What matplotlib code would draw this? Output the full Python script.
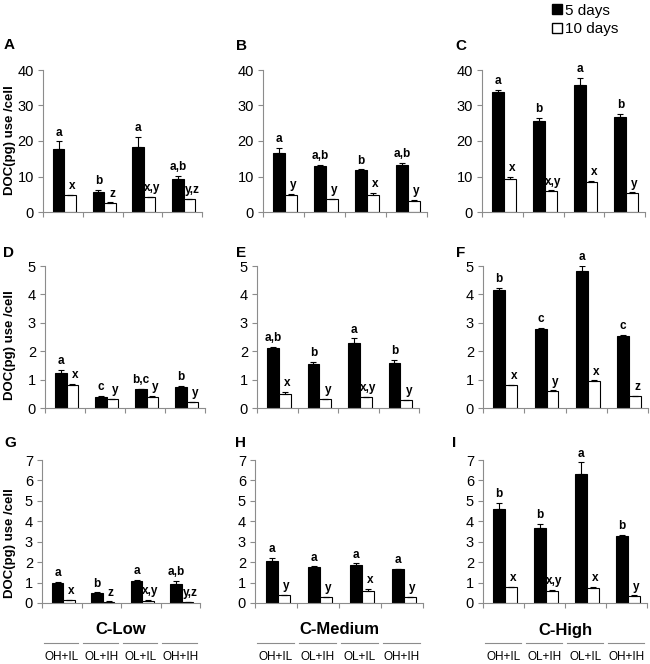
import numpy as np
import matplotlib.pyplot as plt
from matplotlib.patches import Patch
from matplotlib.lines import Line2D
from matplotlib.transforms import blended_transform_factory

plt.rcParams['font.family'] = ['Liberation Sans', 'DejaVu Sans']

treatments = ["OH+IL", "OL+IH", "OL+IL", "OH+IH"]
groups = ["C-Low", "C-Medium", "C-High"]

# panel values: 5 days (black) and 10 days (white), with upper error bars
A_5d = [17.8, 5.5, 18.3, 9.3];   A_5d_err = [2.1, 0.8, 2.8, 0.9]
A_10d = [4.7, 2.6, 4.1, 3.6];   A_10d_err = [0.1, 0.1, 0.1, 0.1]
B_5d = [16.6, 12.9, 11.8, 13.1]; B_5d_err = [1.5, 0.3, 0.2, 0.7]
B_10d = [4.8, 3.7, 4.8, 3.2];   B_10d_err = [0.3, 0.1, 0.5, 0.2]
C_5d = [33.7, 25.5, 35.8, 26.8]; C_5d_err = [0.8, 0.9, 1.9, 0.8]
C_10d = [9.3, 5.9, 8.4, 5.4];   C_10d_err = [0.6, 0.2, 0.4, 0.1]
D_5d = [1.22, 0.40, 0.66, 0.74]; D_5d_err = [0.12, 0.02, 0.02, 0.03]
D_10d = [0.80, 0.30, 0.40, 0.20]; D_10d_err = [0.05, 0.02, 0.02, 0.02]
E_5d = [2.12, 1.54, 2.28, 1.57]; E_5d_err = [0.04, 0.08, 0.17, 0.11]
E_10d = [0.51, 0.31, 0.37, 0.27]; E_10d_err = [0.06, 0.01, 0.02, 0.02]
F_5d = [4.14, 2.77, 4.82, 2.54]; F_5d_err = [0.09, 0.06, 0.18, 0.02]
F_10d = [0.80, 0.60, 0.95, 0.42]; F_10d_err = [0.02, 0.02, 0.02, 0.01]
G_5d = [1.00, 0.51, 1.10, 0.94]; G_5d_err = [0.03, 0.01, 0.03, 0.15]
G_10d = [0.15, 0.07, 0.12, 0.06]; G_10d_err = [0.01, 0.01, 0.01, 0.01]
H_5d = [2.06, 1.77, 1.84, 1.64]; H_5d_err = [0.15, 0.02, 0.10, 0.03]
H_10d = [0.38, 0.28, 0.58, 0.28]; H_10d_err = [0.02, 0.02, 0.09, 0.02]
I_5d = [4.61, 3.69, 6.30, 3.30]; I_5d_err = [0.28, 0.18, 0.58, 0.03]
I_10d = [0.77, 0.60, 0.74, 0.36]; I_10d_err = [0.03, 0.02, 0.03, 0.01]

A_lab5 = ["a", "b", "a", "a,b"]; A_lab10 = ["x", "z", "x,y", "y,z"]
B_lab5 = ["a", "a,b", "b", "a,b"]; B_lab10 = ["y", "y", "x", "y"]
C_lab5 = ["a", "b", "a", "b"]; C_lab10 = ["x", "x,y", "x", "y"]
D_lab5 = ["a", "c", "b,c", "b"]; D_lab10 = ["x", "y", "y", "y"]
E_lab5 = ["a,b", "b", "a", "b"]; E_lab10 = ["x", "y", "x,y", "y"]
F_lab5 = ["b", "c", "a", "c"]; F_lab10 = ["x", "y", "x", "z"]
G_lab5 = ["a", "b", "a", "a,b"]; G_lab10 = ["x", "z", "x,y", "y,z"]
H_lab5 = ["a", "a", "a", "a"]; H_lab10 = ["y", "y", "x", "y"]
I_lab5 = ["b", "b", "a", "b"]; I_lab10 = ["x", "x,y", "x", "y"]

W, H = 650, 664
fig = plt.figure(figsize=(6.5, 6.64), dpi=100)

# pixel boxes (left, right, bottom, top) for each panel
boxes = {
    "A": (43, 202, 212, 70), "B": (263, 427, 212, 70), "C": (482, 645, 212, 70),
    "D": (45, 205, 408, 266), "E": (257, 419, 408, 266), "F": (483, 648, 408, 266),
    "G": (42, 200, 603, 460), "H": (255, 423, 603, 460), "I": (483, 647, 603, 460),
}
letter_pos = {"A": (4, 45), "B": (236, 46), "C": (455, 46),
              "D": (3, 253), "E": (236, 253), "F": (456, 253),
              "G": (4, 443), "H": (235, 443), "I": (452, 443)}
ymax = {"A": 40, "B": 40, "C": 40, "D": 5, "E": 5, "F": 5, "G": 7, "H": 7, "I": 7}
ystep = {"A": 10, "B": 10, "C": 10, "D": 1, "E": 1, "F": 1, "G": 1, "H": 1, "I": 1}

panels = {
    "A": (A_5d, A_5d_err, A_10d, A_10d_err, A_lab5, A_lab10),
    "B": (B_5d, B_5d_err, B_10d, B_10d_err, B_lab5, B_lab10),
    "C": (C_5d, C_5d_err, C_10d, C_10d_err, C_lab5, C_lab10),
    "D": (D_5d, D_5d_err, D_10d, D_10d_err, D_lab5, D_lab10),
    "E": (E_5d, E_5d_err, E_10d, E_10d_err, E_lab5, E_lab10),
    "F": (F_5d, F_5d_err, F_10d, F_10d_err, F_lab5, F_lab10),
    "G": (G_5d, G_5d_err, G_10d, G_10d_err, G_lab5, G_lab10),
    "H": (H_5d, H_5d_err, H_10d, H_10d_err, H_lab5, H_lab10),
    "I": (I_5d, I_5d_err, I_10d, I_10d_err, I_lab5, I_lab10),
}

x = np.arange(4)
bw = 0.29
axes = {}
for key, (v5, e5, v10, e10, l5, l10) in panels.items():
    x0, x1, yb, yt = boxes[key]
    ax = fig.add_axes([x0 / W, 1 - yb / H, (x1 - x0) / W, (yb - yt) / H])
    axes[key] = ax
    ekw = dict(ecolor="black", elinewidth=0.8, capsize=2.5, capthick=0.8)
    ax.bar(x - 0.25, v5, bw, align="edge", color="black", edgecolor="black", linewidth=0.8,
           yerr=[np.zeros(4), e5], error_kw=ekw)
    ax.bar(x + 0.04, v10, bw, align="edge", color="white", edgecolor="black", linewidth=0.8,
           yerr=[np.zeros(4), e10], error_kw=ekw)
    off = ymax[key] * 0.02
    for i in range(4):
        ax.text(x[i] - 0.25 + bw / 2, v5[i] + e5[i] + off, l5[i], ha="center", va="bottom",
                fontsize=8.5, fontweight="bold", clip_on=False)
        ax.text(x[i] + 0.04 + bw / 2 + 0.06, v10[i] + e10[i] + off, l10[i], ha="center",
                va="bottom", fontsize=8.5, fontweight="bold", clip_on=False)
    ax.set_xlim(-0.5, 3.5)
    ax.set_ylim(0, ymax[key])
    ax.set_yticks(np.arange(0, ymax[key] + 0.1, ystep[key]))
    ax.set_xticks(np.arange(-0.5, 4, 1))
    ax.set_xticklabels([])
    for s in ["top", "right"]:
        ax.spines[s].set_visible(False)
    for s in ["left", "bottom"]:
        ax.spines[s].set_color("#8c8c8c")
        ax.spines[s].set_linewidth(0.8)
    ax.tick_params(axis="both", direction="out", length=3.5, width=0.8, color="#8c8c8c",
                   labelsize=10.5, pad=3)
    lx, ly = letter_pos[key]
    fig.text(lx / W, 1 - ly / H, key, fontsize=11, fontweight="bold", ha="left", va="center")

# y labels
for yc in [140, 345, 543]:
    fig.text(10 / W, 1 - yc / H, "DOC(pg) use /cell", rotation=90, fontsize=9.5,
             fontweight="bold", ha="center", va="center")

# group labels and treatment labels below the bottom row
for key, grp in zip(["G", "H", "I"], groups):
    ax = axes[key]
    tr = blended_transform_factory(ax.transData, fig.transFigure)
    ax.text(1.5, 1 - 630 / H, grp, transform=tr, ha="center", va="center",
            fontsize=12, fontweight="bold")
    for i, t in enumerate(treatments):
        fig.add_artist(Line2D([i - 0.45, i + 0.42], [1 - 643 / H, 1 - 643 / H],
                              transform=tr, color="#8c8c8c", linewidth=0.8))
        ax.text(i, 1 - 657 / H, t, transform=tr, ha="center", va="center", fontsize=8.5)

handles = [Patch(facecolor="black", edgecolor="black"),
           Patch(facecolor="white", edgecolor="black")]
fig.legend(handles, ["5 days", "10 days"], loc="upper left",
           bbox_to_anchor=(541 / W, 1.0 + 7 / H), frameon=False, fontsize=11,
           handlelength=0.65, handleheight=0.65, handletextpad=0.2, labelspacing=0.3,
           borderpad=0.2)

fig.savefig("out.png", dpi=100)
